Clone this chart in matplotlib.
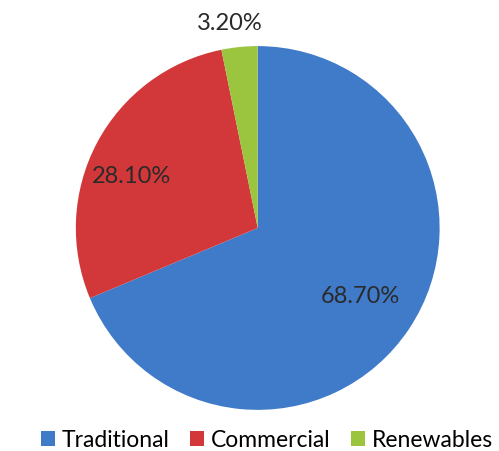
import numpy as np
import matplotlib.pyplot as plt

categories = ['Traditional', 'Commercial', 'Renewables']
shares = [68.7, 28.1, 3.2]
colors = ['#3F7BC9', '#D2383A', '#9BC43F']

plt.rcParams['font.family'] = ['Lato', 'DejaVu Sans']

fig = plt.figure(figsize=(4.99, 4.51), dpi=100)
ax = fig.add_axes([0.152, 0.091, 0.729, 0.807])

wedges, texts, autotexts = ax.pie(
    shares, colors=colors, startangle=90, counterclock=False,
    autopct='%.2f%%', pctdistance=0.68,
    wedgeprops=dict(linewidth=0),
    textprops=dict(fontsize=17, color='#2a2a2a'))

# small slice label sits outside the pie
w = wedges[2]
mid = np.deg2rad((w.theta1 + w.theta2) / 2)
autotexts[2].set_position((1.14 * np.cos(mid) - 0.04, 1.13 * np.sin(mid)))
autotexts[1].set_position((0.75 * np.cos(np.deg2rad(158)), 0.75 * np.sin(np.deg2rad(158))))
ax.set_xlim(-1, 1)
ax.set_ylim(-1, 1)
ax.set_aspect('equal')

fig.legend(wedges, categories, loc='lower center', bbox_to_anchor=(0.535, -0.045),
           ncol=3, frameon=False, fontsize=16.5, handlelength=0.6, handleheight=0.6,
           handletextpad=0.3, columnspacing=0.9)

fig.savefig('out.png', dpi=100)
